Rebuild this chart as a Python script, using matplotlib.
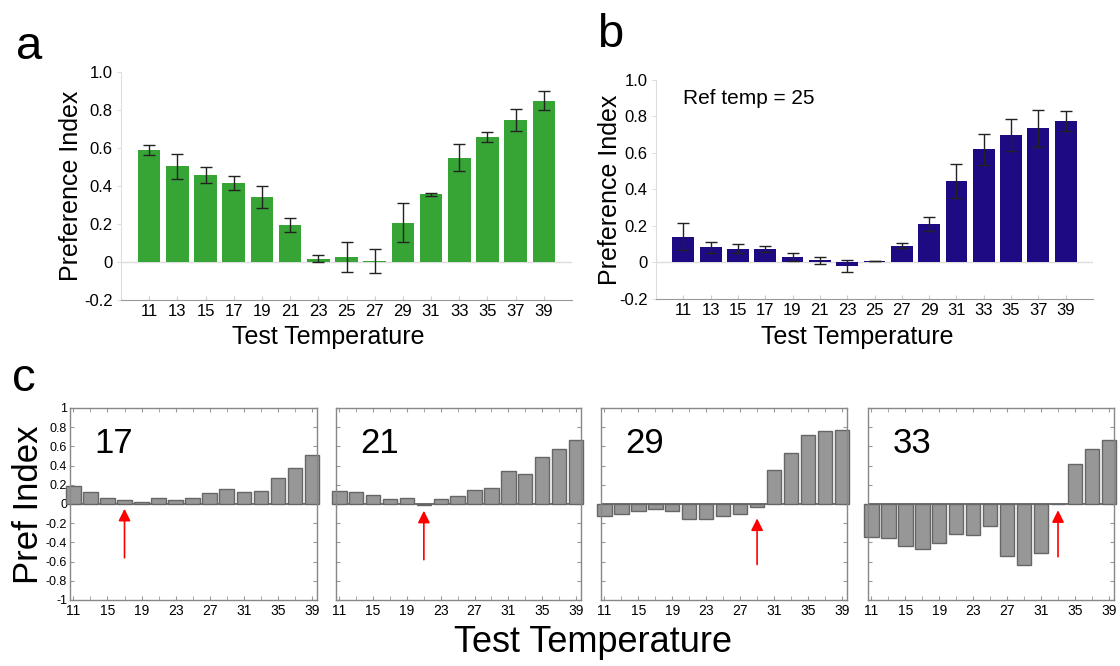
import matplotlib
matplotlib.use("Agg")
import matplotlib.pyplot as plt
import numpy as np

plt.rcParams['font.family'] = ['Liberation Sans', 'DejaVu Sans']
plt.rcParams['axes.unicode_minus'] = False

# test temperatures (deg C)
temps = [11, 13, 15, 17, 19, 21, 23, 25, 27, 29, 31, 33, 35, 37, 39]

# panel a: preference index vs test temperature
pi_a = [0.588, 0.503, 0.457, 0.416, 0.34, 0.195, 0.018, 0.027, 0.005, 0.207,
        0.357, 0.55, 0.658, 0.749, 0.85]
err_a = [0.027, 0.067, 0.042, 0.037, 0.058, 0.035, 0.02, 0.08, 0.065, 0.103,
         0.008, 0.07, 0.027, 0.058, 0.05]

# panel b: reference temperature 25
pi_b = [0.142, 0.083, 0.075, 0.074, 0.03, 0.011, -0.018, 0.009, 0.092, 0.211,
        0.445, 0.62, 0.698, 0.735, 0.776]
err_b = [0.075, 0.03, 0.025, 0.017, 0.02, 0.017, 0.034, 0.0, 0.014, 0.037,
         0.094, 0.086, 0.087, 0.1, 0.055]

# panel c: other reference temperatures
ref_temps = [17, 21, 29, 33]
pi_17 = [0.19, 0.13, 0.06, 0.04, 0.02, 0.065, 0.04, 0.06, 0.11, 0.16,
         0.12, 0.14, 0.27, 0.38, 0.51]
pi_21 = [0.135, 0.12, 0.095, 0.05, 0.06, -0.012, 0.05, 0.085, 0.145, 0.17,
         0.34, 0.315, 0.49, 0.575, 0.67]
pi_29 = [-0.127, -0.10, -0.075, -0.05, -0.075, -0.16, -0.16, -0.127, -0.10, -0.035,
         0.357, 0.53, 0.715, 0.76, 0.77]
pi_33 = [-0.347, -0.35, -0.436, -0.464, -0.41, -0.31, -0.326, -0.23, -0.546, -0.636,
         -0.515, -0.005, 0.42, 0.574, 0.67]
pi_c = [pi_17, pi_21, pi_29, pi_33]

W, H = 1120, 666
fig = plt.figure(figsize=(W / 100, H / 100), dpi=100)


def px_axes(l, t, r, b):
    return fig.add_axes([l / W, 1 - b / H, (r - l) / W, (b - t) / H])


def ftext(x, y, s, **kw):
    fig.text(x / W, 1 - y / H, s, **kw)


def top_panel(ax, vals, errs, color):
    x = np.arange(len(temps))
    ax.axhline(0, color='#dddddd', lw=1, zorder=0)
    ax.bar(x, vals, width=0.8, color=color, zorder=2)
    ax.errorbar(x, vals, yerr=errs, fmt='none', ecolor='#222222', elinewidth=1,
                capsize=4, capthick=1, zorder=3)
    ax.set_xlim(-1, 15)
    ax.set_ylim(-0.2, 1.0)
    ax.set_xticks(x)
    ax.set_xticklabels([str(t) for t in temps], fontsize=12)
    ax.set_yticks([-0.2, 0, 0.2, 0.4, 0.6, 0.8, 1.0])
    ax.set_yticklabels(['-0.2', '0', '0.2', '0.4', '0.6', '0.8', '1.0'], fontsize=12)
    for s in ['top', 'right']:
        ax.spines[s].set_visible(False)
    ax.spines['left'].set_color('#dddddd')
    ax.spines['bottom'].set_color('#999999')
    ax.tick_params(axis='x', direction='in', length=3, color='#cccccc', pad=3)
    ax.tick_params(axis='y', direction='out', length=3, color='#dddddd', pad=3)


ax_a = px_axes(121, 72, 572, 300)
top_panel(ax_a, pi_a, err_a, '#36a536')
ax_b = px_axes(656, 80, 1093, 299)
top_panel(ax_b, pi_b, err_b, '#1e0a82')
ftext(683, 99, 'Ref temp = 25', fontsize=15, ha='left', va='center')

ftext(71, 186, 'Preference Index', fontsize=18, rotation=90, ha='center', va='center')
ftext(610, 190, 'Preference Index', fontsize=18, rotation=90, ha='center', va='center')
ftext(328, 337, 'Test Temperature', fontsize=18, ha='center', va='center')
ftext(857, 337, 'Test Temperature', fontsize=18, ha='center', va='center')

ftext(16, 59, 'a', fontsize=34, ha='left', va='baseline')
ftext(597, 47, 'b', fontsize=34, ha='left', va='baseline')
ftext(12, 391, 'c', fontsize=34, ha='left', va='baseline')

# panel c: four boxed subplots
c_edges = [(70, 317), (336, 581), (601, 847), (868, 1114)]
arrow_tip = [-0.05, -0.07, -0.15, -0.065]
arrow_tail = [-0.56, -0.58, -0.63, -0.55]
for i, (l, r) in enumerate(c_edges):
    ax = px_axes(l, 408, r, 600)
    ax.axhline(0, color='#555555', lw=1.2, zorder=1)
    ax.bar(temps, pi_c[i], width=1.7, color='#979797', edgecolor='#666666',
           linewidth=1, zorder=2, clip_on=False)
    ax.set_xlim(10.6, 39.6)
    ax.set_ylim(-1, 1)
    ax.set_xticks(range(11, 40, 4))
    ax.set_xticks(range(11, 40, 2), minor=True)
    ax.set_xticklabels([str(t) for t in range(11, 40, 4)], fontsize=10)
    yt = np.round(np.arange(-1, 1.01, 0.2), 1) + 0.0
    ax.set_yticks(yt)
    if i == 0:
        ax.set_yticklabels(['%g' % (v if abs(v) > 1e-9 else 0) for v in yt], fontsize=9)
    else:
        ax.set_yticklabels([])
    ax.tick_params(which='both', direction='in', top=True, right=True,
                   length=3, color='#999999', pad=2)
    ax.tick_params(axis='x', pad=3)
    for s in ax.spines.values():
        s.set_color('#888888')
        s.set_linewidth(1)
    ax.text(0.1, 0.766, str(ref_temps[i]), transform=ax.transAxes,
            fontsize=25, ha='left', va='baseline')
    ax.annotate('', xy=(ref_temps[i], arrow_tip[i]), xytext=(ref_temps[i], arrow_tail[i]),
                arrowprops=dict(arrowstyle='-|>', color='red', lw=1.2,
                                mutation_scale=18, shrinkA=0, shrinkB=0))

ftext(28, 505, 'Pref Index', fontsize=25, rotation=90, ha='center', va='center')
ftext(593, 643, 'Test Temperature', fontsize=26, ha='center', va='center')

fig.savefig('out.png', dpi=100)
